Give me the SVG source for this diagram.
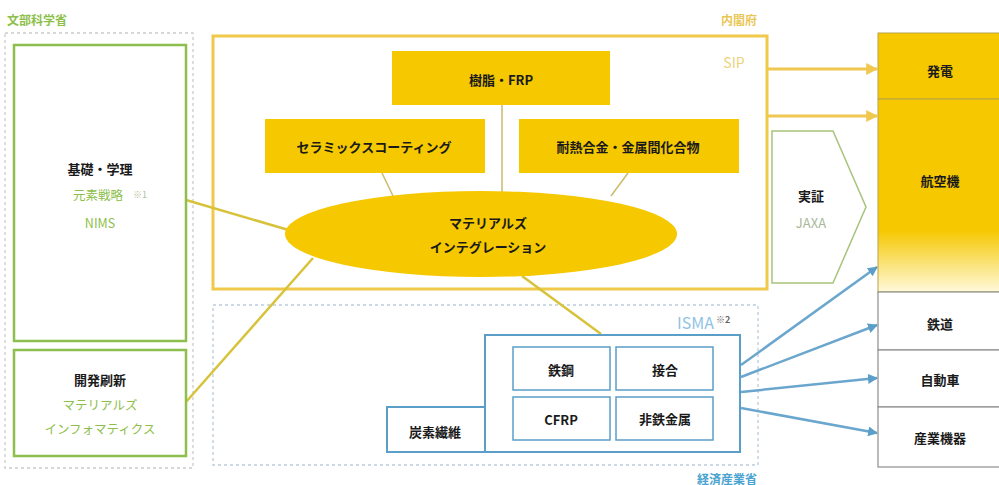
<svg xmlns="http://www.w3.org/2000/svg" width="999" height="485" viewBox="0 0 999 485">
<style>
text{font-family:"Noto Sans CJK JP","Noto Sans",sans-serif;dominant-baseline:central;text-anchor:middle}
.b{font-weight:bold;font-size:13px;fill:#1a1a1a}
.g{font-size:12.5px;fill:#8dc04a}
.jx{font-size:13px;fill:#a9b99a}
.grp{font-weight:bold;font-size:12px}
.yb{fill:#f5c800}
.gbox{fill:#fff;stroke:#8dbf4c;stroke-width:2.5}
.blue{fill:#fff;stroke:#5b9fc9;stroke-width:2}
.cell{fill:#fff;stroke:#5b9fc9;stroke-width:1.5}
.rc{fill:#fff;stroke:#8e8e8e;stroke-width:1.2}
.yl{stroke:#d7c23a;stroke-width:2.5;fill:none}
.bl{stroke:#6aa6cd;stroke-width:2.5;fill:none}
.dash{fill:none;stroke-width:1.3;stroke-dasharray:3 3}
</style>
<defs>
<linearGradient id="gr" x1="0" y1="0" x2="0" y2="1">
<stop offset="0" stop-color="#f5c800"/>
<stop offset="0.68" stop-color="#f5c800"/>
<stop offset="1" stop-color="#fff9dc"/>
</linearGradient>
<marker id="ay" viewBox="0 0 10 10" refX="9" refY="5" markerWidth="4" markerHeight="4" orient="auto" markerUnits="strokeWidth"><path d="M0,0L10,5L0,10z" fill="#f0c850"/></marker>
<marker id="ab" viewBox="0 0 10 10" refX="9" refY="5" markerWidth="4" markerHeight="4" orient="auto" markerUnits="strokeWidth"><path d="M0,0L10,5L0,10z" fill="#5b9fc9"/></marker>
</defs>
<rect width="999" height="485" fill="#fff"/>

<g id="mext">
<rect x="5" y="33" width="188" height="435" class="dash" stroke="#c9cdc9"/>
<text x="7" y="19" class="grp" fill="#8dc04a" style="text-anchor:start">文部科学省</text>
</g>
<g id="cao">
<rect x="213" y="36" width="554" height="253" fill="none" stroke="#f0c84a" stroke-width="3"/>
<text x="757" y="19" class="grp" fill="#e9c757" style="text-anchor:end">内閣府</text>
<text x="734" y="62" font-size="14" fill="#ecd27a">SIP</text>
</g>
<g id="meti">
<rect x="213" y="305" width="545" height="160" class="dash" stroke="#bccbdc"/>
<text x="757" y="478" class="grp" fill="#4aa3d0" style="text-anchor:end">経済産業省</text>
<text x="677" y="322" font-size="16" fill="#8ec3e4" style="text-anchor:start">ISMA<tspan font-size="9" font-weight="bold" fill="#666" dx="2" dy="-3">※2</tspan></text>
</g>

<g id="connectors">
<line x1="502" y1="105" x2="502" y2="192" stroke="#c9bb6a" stroke-width="1.5"/>
<line x1="382" y1="173" x2="393" y2="196" stroke="#c9bb6a" stroke-width="1.5"/>
<line x1="628" y1="173" x2="611" y2="196" stroke="#c9bb6a" stroke-width="1.5"/>
<line x1="186" y1="200" x2="292" y2="231" class="yl"/>
<line x1="186" y1="402" x2="313" y2="258" class="yl"/>
<line x1="522" y1="276" x2="601" y2="334" class="yl"/>
<line x1="767" y1="69" x2="877" y2="69" stroke="#f0c850" stroke-width="3" marker-end="url(#ay)"/>
<line x1="767" y1="116" x2="877" y2="116" stroke="#f0c850" stroke-width="3" marker-end="url(#ay)"/>
<line x1="741" y1="365" x2="877" y2="267" class="bl" marker-end="url(#ab)"/>
<line x1="741" y1="377" x2="877" y2="325" class="bl" marker-end="url(#ab)"/>
<line x1="741" y1="392" x2="877" y2="378" class="bl" marker-end="url(#ab)"/>
<line x1="741" y1="408" x2="877" y2="433" class="bl" marker-end="url(#ab)"/>
</g>

<g id="kiso">
<rect x="14" y="45" width="172" height="296" class="gbox"/>
<text x="100" y="168" class="b">基礎・学理</text>
<text x="73" y="194" class="g" style="text-anchor:start">元素戦略<tspan font-size="9" dx="10" fill="#b0c49a">※1</tspan></text>
<text x="100" y="222" class="g">NIMS</text>
</g>
<g id="kaihatsu">
<rect x="14" y="350" width="172" height="106" class="gbox"/>
<text x="100" y="379" class="b">開発刷新</text>
<text x="100" y="404" class="g">マテリアルズ</text>
<text x="100" y="428" class="g">インフォマティクス</text>
</g>
<g id="jushi">
<rect x="392" y="51" width="218" height="54" class="yb"/>
<text x="501" y="79" class="b">樹脂・FRP</text>
</g>
<g id="ceramic">
<rect x="265" y="119" width="220" height="54" class="yb"/>
<text x="374" y="146" class="b">セラミックスコーティング</text>
</g>
<g id="alloy">
<rect x="519" y="119" width="220" height="54" class="yb"/>
<text x="628" y="146" class="b">耐熱合金・金属間化合物</text>
</g>
<g id="mi">
<ellipse cx="481" cy="234" rx="196" ry="43" class="yb"/>
<text x="488" y="222" class="b" font-size="14">マテリアルズ</text>
<text x="488" y="246" class="b" font-size="14">インテグレーション</text>
</g>
<g id="jaxa">
<path d="M772,131H833L866,207L833,283H772Z" fill="#fff" stroke="#a6c47a" stroke-width="1.5"/>
<text x="811" y="195" class="b">実証</text>
<text x="811" y="222" class="jx">JAXA</text>
</g>
<g id="isma">
<rect x="485" y="335" width="255" height="117" class="blue"/>
<rect x="387" y="407" width="98" height="45" class="blue"/>
<text x="435" y="431" class="b">炭素繊維</text>
</g>
<g id="tekko"><rect x="513" y="347" width="97" height="43" class="cell"/><text x="561" y="369" class="b">鉄鋼</text></g>
<g id="setsugo"><rect x="616" y="347" width="97" height="43" class="cell"/><text x="665" y="369" class="b">接合</text></g>
<g id="cfrp"><rect x="513" y="397" width="97" height="43" class="cell"/><text x="561" y="419" class="b" font-size="14">CFRP</text></g>
<g id="hitetsu"><rect x="616" y="397" width="97" height="43" class="cell"/><text x="665" y="418" class="b">非鉄金属</text></g>

<g id="hatsuden"><rect x="878" y="33" width="130" height="66" class="yb" stroke="#b8a44a" stroke-width="1"/><text x="940" y="70" class="b">発電</text></g>
<g id="kokuki"><rect x="878" y="99" width="130" height="193" fill="url(#gr)" stroke="#b8a44a" stroke-width="1"/><text x="940" y="180" class="b">航空機</text></g>
<g id="tetsudo"><rect x="878" y="292" width="130" height="58" class="rc"/><text x="940" y="323" class="b">鉄道</text></g>
<g id="jidosha"><rect x="878" y="350" width="130" height="57" class="rc"/><text x="940" y="379" class="b">自動車</text></g>
<g id="sangyo"><rect x="878" y="407" width="130" height="60" class="rc"/><text x="940" y="437" class="b">産業機器</text></g>
</svg>
